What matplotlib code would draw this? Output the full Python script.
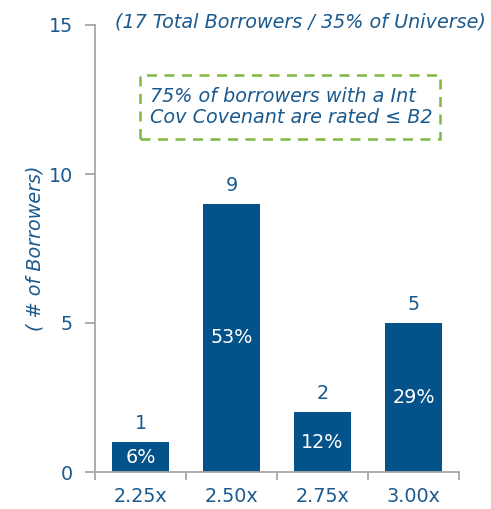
import matplotlib
matplotlib.use("Agg")
from matplotlib import pyplot as plt
from matplotlib.patches import FancyBboxPatch

# 데이터
categories = ["2.25x", "2.50x", "2.75x", "3.00x"]
counts = [1, 9, 2, 5]
pct_labels = ["6%", "53%", "12%", "29%"]

bar_color = "#03528A"
text_color = "#1B5A8E"
axis_color = "#A6A6A6"
green = "#7DB940"

plt.rcParams['font.family'] = ['DejaVu Sans']
fs = 13.8

fig = plt.figure(figsize=(4.91, 5.09), dpi=100)
ax = fig.add_axes([95/491, 37/509, 364/491, 447/509])

xs = list(range(len(categories)))
ax.bar(xs, counts, width=0.63, color=bar_color, zorder=2)

for x, c, p in zip(xs, counts, pct_labels):
    ax.text(x, c + 0.3, str(c), ha='center', va='bottom', color=text_color, fontsize=fs)
    ax.text(x, c / 2, p, ha='center', va='center', color='white', fontsize=fs)

ax.set_xlim(-0.5, 3.5)
ax.set_ylim(0, 15)
ax.set_yticks([0, 5, 10, 15])
ax.set_xticks(xs)
ax.set_xticklabels(categories)
# 카테고리 사이의 눈금
ax.set_xticks([-0.5, 0.5, 1.5, 2.5, 3.5], minor=True)
ax.tick_params(axis='x', which='major', length=0, pad=11, labelcolor=text_color, labelsize=fs)
ax.tick_params(axis='x', which='minor', length=6, direction='out', color=axis_color, width=1.3)
ax.tick_params(axis='y', length=7, direction='out', color=axis_color, width=1.3,
               labelcolor=text_color, labelsize=fs, pad=9)

for s in ['top', 'right']:
    ax.spines[s].set_visible(False)
for s in ['left', 'bottom']:
    ax.spines[s].set_color(axis_color)
    ax.spines[s].set_linewidth(1.3)

ax.set_ylabel("( # of Borrowers)", color=text_color, fontsize=fs, style='italic', labelpad=3)

fig.text(300/491, 1 - 22/509, "(17 Total Borrowers / 35% of Universe)", ha='center', va='center',
         color=text_color, fontsize=fs, style='italic')

box = FancyBboxPatch((140/491, 1 - 139/509), 300/491, 64/509, boxstyle='square,pad=0',
                     transform=fig.transFigure, fill=False, edgecolor=green,
                     linewidth=1.8, linestyle=(0, (4, 3)))
fig.patches.append(box)
fig.text(150/491, 1 - 107/509, "75% of borrowers with a Int\nCov Covenant are rated ≤ B2",
         ha='left', va='center', color=text_color, fontsize=fs, style='italic', linespacing=1.1)

fig.savefig("out.png", dpi=100)
